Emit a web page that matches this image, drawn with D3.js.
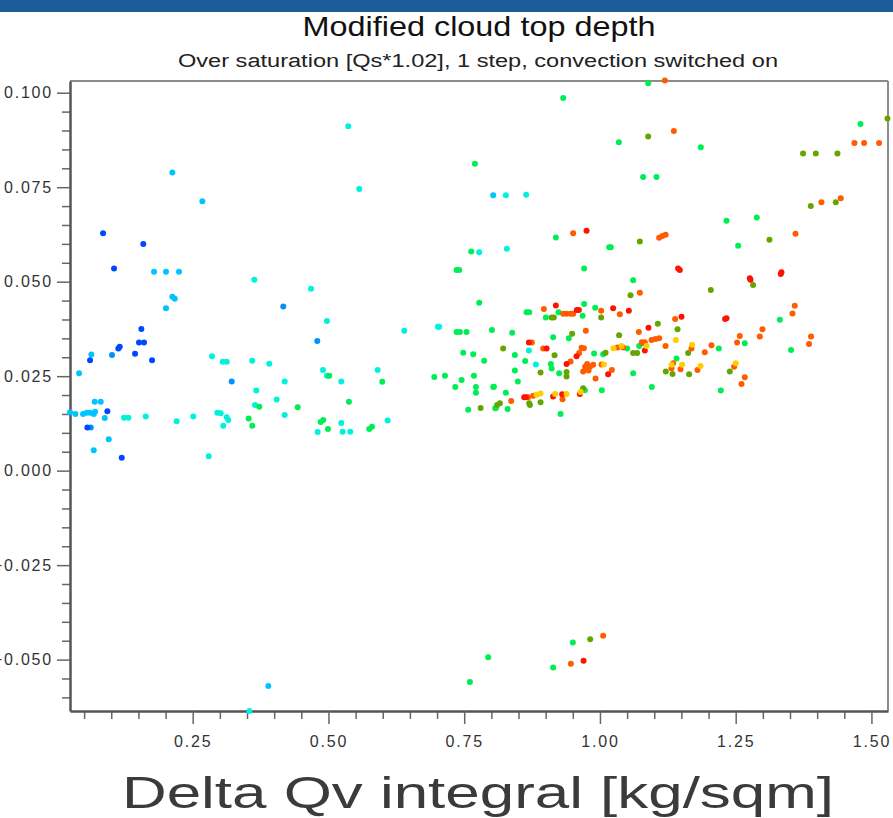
<!DOCTYPE html>
<html>
<head>
<meta charset="utf-8">
<script src="https://cdn.jsdelivr.net/npm/d3@7"></script>
<style>
  html, body { margin: 0; padding: 0; background: #fff; }
  svg { display: block; }
  text { font-family: "Liberation Sans", Arial, Helvetica, sans-serif; }
</style>
</head>
<body>
<svg id="chart" width="893" height="818"></svg>
<script>
// Axis ranges and ticks
const xDomain = [0.024, 1.5305];
const yDomain = [-0.0636, 0.1031];
const xMajorTicks = [0.25, 0.50, 0.75, 1.00, 1.25, 1.50];
const yMajorTicks = [-0.050, -0.025, 0.000, 0.025, 0.050, 0.075, 0.100];

const titleText = "Modified cloud top depth";
const subtitleText = "Over saturation [Qs*1.02], 1 step, convection switched on";
const xLabelText = "Delta Qv integral [kg/sqm]";

// Points grouped by colour class: [Delta Qv integral, cloud top depth change]
const deepBluePts = [[0.0849,0.0628],[0.1590,0.0600],[0.1051,0.0535],[0.1554,0.0375],[0.1511,0.0339],[0.1603,0.0339],[0.1156,0.0328],[0.1130,0.0323],[0.1438,0.0309],[0.1751,0.0292],[0.0609,0.0292],[0.0928,0.0157],[0.0560,0.0114],[0.1193,0.0034]];
const midBluePts = [[0.1014,0.0306],[0.3218,0.0236],[0.4168,0.0434],[0.4794,0.0343],[0.0622,0.0114]];
const skyPts = [[0.2125,0.0789],[0.2677,0.0713],[0.1788,0.0526],[0.2008,0.0526],[0.2248,0.0526],[0.2125,0.0460],[0.2169,0.0455],[0.2008,0.0430],[0.0633,0.0307],[0.0407,0.0258],[0.0696,0.0182],[0.0806,0.0182],[0.0241,0.01545],[0.0339,0.0150],[0.0480,0.0150],[0.0549,0.01535],[0.0609,0.01535],[0.0701,0.0156],[0.0677,0.0150],[0.0880,0.0139],[0.0954,0.0083],[0.0677,0.0054],[0.3892,-0.0570],[0.8034,0.0729]];
const cyanPts = [[0.3634,0.0505],[0.2855,0.0303],[0.3052,0.0288],[0.3126,0.0288],[0.3597,0.0291],[0.3910,0.0283],[0.4194,0.0236],[0.3671,0.0212],[0.4046,0.0188],[0.3647,0.0174],[0.1235,0.0140],[0.1315,0.0140],[0.1635,0.0143],[0.2205,0.0131],[0.2511,0.0143],[0.2953,0.01535],[0.3015,0.0152],[0.3126,0.0141],[0.3155,0.0134],[0.3063,0.0119],[0.4194,0.0147],[0.2795,0.0038],[0.3542,-0.0636],[0.5365,0.0911],[0.5567,0.0745],[0.7776,0.0578],[0.4678,0.0481],[0.4972,0.0396],[0.6396,0.0370],[0.4899,0.0266],[0.4972,0.0251],[0.5236,0.0236],[0.5906,0.0266],[0.5236,0.0126],[0.4801,0.0102],[0.5261,0.0103],[0.5401,0.0103],[0.6090,0.0133],[0.8268,0.0729],[0.8642,0.0730],[0.8286,0.0587],[0.7016,0.0381],[0.7040,0.0381],[0.8691,0.0318],[0.8820,0.0281]];
const greenPts = [[0.3726,0.0169],[0.4433,0.0168],[0.3531,0.0138],[0.3597,0.0119],[0.5015,0.0251],[0.5991,0.0235],[0.5377,0.0182],[0.4856,0.0129],[0.4904,0.0134],[0.4991,0.0110],[0.5751,0.0110],[0.5801,0.0116],
  [0.7697,0.0812],[0.7629,0.0580],[0.7360,0.0531],[0.7408,0.0531],[0.7776,0.0444],[0.7360,0.0367],[0.7421,0.0367],[0.7544,0.0367],[0.8010,0.0372],[0.7482,0.0312],[0.7666,0.0308],[0.7868,0.0291],[0.6948,0.0248],[0.7145,0.0251],[0.7452,0.0240],[0.7679,0.0251],[0.7335,0.0221],[0.7716,0.0221],[0.7716,0.0206],[0.8034,0.0221],[0.7574,0.0161],[0.8084,0.0166],
  [1.0888,0.1025],[0.9323,0.0986],[1.0348,0.0869],[1.0795,0.0777],[1.1042,0.0777],[0.9188,0.0617],[1.0170,0.0591],[1.0200,0.0591],[0.9709,0.0535],[1.0611,0.0504],[0.8649,0.0419],[0.8697,0.0419],[0.9237,0.0419],[0.9004,0.0405],[0.9709,0.0441],[0.9680,0.0410],[0.9912,0.0431],[0.8384,0.0365],[0.9138,0.0353],[0.9427,0.0350],[0.8433,0.0306],[0.8623,0.0290],[0.9096,0.0282],[0.9110,0.0270],[0.9893,0.0310],[1.0059,0.0308],[1.0501,0.0323],[1.0722,0.0330],[0.9249,0.0258],[0.8433,0.0265],[0.8488,0.0236],[0.8047,0.0222],[1.0611,0.0258],[1.0955,0.0221],[1.0035,0.0213],[0.9722,0.0213],[0.8268,0.0206],[0.8071,0.0165],[0.8299,0.0163],[0.9275,0.0150],
  [1.1858,0.0856],[1.4798,0.0917],[1.2331,0.0661],[1.2888,0.0670],[1.2545,0.0595],[1.1410,0.0297],[1.2189,0.0323],[1.2667,0.0337],[1.3312,0.0399],[1.3520,0.0319],[1.2226,0.0212],
  [0.7605,-0.0559],[0.7942,-0.0494],[0.9138,-0.0521],[0.9501,-0.0455]];
const olivePts = [[0.7802,0.0166],[1.0888,0.0884],[1.0735,0.0606],[1.0563,0.0464],[0.9110,0.0405],[0.9151,0.0405],[1.0022,0.0405],[0.9488,0.0362],[1.0353,0.0358],[1.1066,0.0389],[1.1429,0.0374],[0.8218,0.0323],[0.9164,0.0305],[1.0103,0.0312],[1.0611,0.0311],[1.0685,0.0311],[1.0795,0.0337],[0.9385,0.0261],[0.9385,0.0249],[0.8906,0.0260],[0.9690,0.0218],[0.8697,0.0178],[0.8710,0.0174],[0.8906,0.0181],[0.8157,0.0178],[0.8108,0.0174],
  [1.5295,0.0932],[1.3741,0.0839],[1.3975,0.0839],[1.4374,0.0839],[1.3883,0.0700],[1.4343,0.0710],[1.3122,0.0611],[1.2820,0.0491],[1.2042,0.0478],[1.1624,0.0311],[1.1213,0.0262],[1.1337,0.0256],[1.1642,0.0255],[1.2391,0.0262],[0.9820,-0.0446]];
const orangePts = [[1.1195,0.1032],[1.1361,0.0899],[0.9507,0.0628],[1.1090,0.0616],[1.1150,0.0621],[1.1210,0.0624],[1.0735,0.0471],[0.8967,0.0428],[0.9323,0.0415],[0.9385,0.0415],[0.9459,0.0415],[0.9507,0.0415],[1.0022,0.0423],[1.0366,0.0414],[0.9740,0.0370],[1.0716,0.0367],[1.1384,0.0401],[0.8746,0.0339],[0.8955,0.0323],[0.9459,0.0289],[0.9618,0.0311],[0.9661,0.0325],[0.9704,0.0324],[1.0324,0.0326],[1.0427,0.0326],[1.0771,0.0340],[1.0826,0.0340],[1.0950,0.0346],[1.1023,0.0348],[1.1090,0.0350],[1.1208,0.0330],[0.9727,0.0275],[0.9764,0.0282],[0.9814,0.0275],[0.9875,0.0280],[0.9790,0.0265],[0.9691,0.0262],[0.9919,0.0244],[1.0029,0.0281],[1.0219,0.0266],[0.9311,0.0189],[0.8771,0.0198],[0.8678,0.0194],[0.8365,0.0184],
  [1.4687,0.0867],[1.4865,0.0867],[1.5140,0.0867],[1.4079,0.0710],[1.4435,0.0721],[1.3601,0.0627],[1.1686,0.0323],[1.1931,0.0313],[1.2054,0.0332],[1.2575,0.0356],[1.2526,0.0339],[1.2944,0.0355],[1.2993,0.0374],[1.3546,0.0416],[1.3588,0.0436],[1.3888,0.0355],[1.3851,0.0335],[1.1348,0.0284],[1.1318,0.0271],[1.1484,0.0268],[1.1797,0.0266],[1.2471,0.0275],[1.2667,0.0247],[1.2607,0.0229],
  [0.9464,-0.0511],[1.0059,-0.0437]];
const redPts = [[0.9753,0.0635],[1.1440,0.0535],[1.1471,0.0531],[0.9188,0.0437],[0.9575,0.0425],[0.9612,0.0425],[1.0243,0.0430],[1.0532,0.0423],[1.0894,0.0378],[0.8691,0.0339],[0.9017,0.0323],[0.9385,0.0282],[0.9569,0.0303],[1.0826,0.0318],[1.0151,0.0255],[0.9630,0.0203],[0.9304,0.0202],[0.9138,0.0196],[0.8605,0.0194],[0.8636,0.0194],
  [1.2760,0.0509],[1.2773,0.0505],[1.3343,0.0525],[1.3330,0.0520],[1.1502,0.0407],[1.2305,0.0401],[1.2331,0.0403],
  [0.9698,-0.0503]];
const yellowPts = [[1.0072,0.0281],[1.0250,0.0324],[1.0398,0.0330],[1.0857,0.0330],[1.1397,0.0346],[0.9643,0.0208],[0.9385,0.0203],[0.9175,0.0203],[0.8906,0.0204],[0.8833,0.0201],[1.1697,0.0333],[1.1318,0.0280],[1.1513,0.0280],[1.1852,0.0277],[1.2502,0.0284]];

const groups = [
  { pts: skyPts,      color: "#00c4ff" },
  { pts: cyanPts,     color: "#00f2dc" },
  { pts: midBluePts,  color: "#0092ff" },
  { pts: deepBluePts, color: "#0048ff" },
  { pts: greenPts,    color: "#00ee55" },
  { pts: olivePts,    color: "#64a600" },
  { pts: orangePts,   color: "#ff5c00" },
  { pts: redPts,      color: "#ff1200" },
  { pts: yellowPts,   color: "#ffce00" }
];

const svg = d3.select("#chart");
const W = 893, H = 818;
const plot = { left: 70, right: 888, top: 81, bottom: 711 };

const x = d3.scaleLinear().domain(xDomain).range([plot.left, plot.right]);
const y = d3.scaleLinear().domain(yDomain).range([plot.bottom, plot.top]);

// Blur used for the soft, enlarged axis caption
const defs = svg.append("defs");
defs.append("filter").attr("id", "soft")
  .append("feGaussianBlur").attr("stdDeviation", 0.7);

// Header band
svg.append("rect").attr("x", 0).attr("y", 0).attr("width", W).attr("height", 12)
  .attr("fill", "#1e5b9a");

// Titles
svg.append("text").attr("x", 479).attr("y", 36)
  .attr("text-anchor", "middle").attr("font-size", 28).attr("fill", "#111")
  .attr("textLength", 353).attr("lengthAdjust", "spacingAndGlyphs")
  .text(titleText);
svg.append("text").attr("x", 478).attr("y", 67)
  .attr("text-anchor", "middle").attr("font-size", 18).attr("fill", "#222")
  .attr("textLength", 600).attr("lengthAdjust", "spacingAndGlyphs")
  .text(subtitleText);

// Frame: top and right
svg.append("line").attr("x1", plot.left).attr("x2", plot.right)
  .attr("y1", plot.top).attr("y2", plot.top)
  .attr("stroke", "#8c8c8c").attr("stroke-width", 2);
svg.append("line").attr("x1", plot.right).attr("x2", plot.right)
  .attr("y1", plot.top).attr("y2", plot.bottom)
  .attr("stroke", "#8c8c8c").attr("stroke-width", 2);

// Minor ticks
const yMinor = d3.range(-0.060, 0.1001, 0.005).map(v => +v.toFixed(3))
  .filter(v => !yMajorTicks.some(t => Math.abs(t - v) < 1e-9));
const xMinor = d3.range(0.05, 1.5001, 0.05).map(v => +v.toFixed(2))
  .filter(v => !xMajorTicks.some(t => Math.abs(t - v) < 1e-9));

const yAxisMinor = d3.axisLeft(y).tickValues(yMinor).tickSize(8).tickSizeOuter(0).tickFormat("");
const xAxisMinor = d3.axisBottom(x).tickValues(xMinor).tickSize(8).tickSizeOuter(0).tickFormat("");
svg.append("g").attr("transform", `translate(${plot.left},0)`).call(yAxisMinor)
  .call(g => g.select(".domain").remove())
  .selectAll("line").attr("stroke", "#666").attr("stroke-width", 1.5);
svg.append("g").attr("transform", `translate(0,${plot.bottom})`).call(xAxisMinor)
  .call(g => g.select(".domain").remove())
  .selectAll("line").attr("stroke", "#666").attr("stroke-width", 1.5);

// Major ticks and labels
const yAxis = d3.axisLeft(y).tickValues(yMajorTicks).tickSize(13).tickSizeOuter(0)
  .tickPadding(4).tickFormat(d3.format(".3f"));
const xAxis = d3.axisBottom(x).tickValues(xMajorTicks).tickSize(13).tickSizeOuter(0)
  .tickPadding(8).tickFormat(d3.format(".2f"));

const gy = svg.append("g").attr("transform", `translate(${plot.left},0)`).call(yAxis);
const gx = svg.append("g").attr("transform", `translate(0,${plot.bottom})`).call(xAxis);
[gy, gx].forEach(g => {
  g.select(".domain").attr("stroke", "#555").attr("stroke-width", 2.5);
  g.selectAll(".tick line").attr("stroke", "#666").attr("stroke-width", 1.5);
  g.selectAll(".tick text").attr("font-size", 16).attr("fill", "#333")
    .attr("letter-spacing", "1.8px")
    .style("font-family", '"Liberation Sans", Arial, Helvetica, sans-serif');
});
gx.selectAll(".tick text").attr("dy", "0.95em");

// Data points
const dots = svg.append("g");
groups.forEach(gp => {
  dots.selectAll(null).data(gp.pts).enter().append("circle")
    .attr("cx", d => x(d[0])).attr("cy", d => y(d[1]))
    .attr("r", 3).attr("fill", gp.color);
});

// X axis caption
svg.append("text").attr("x", 478).attr("y", 808)
  .attr("text-anchor", "middle").attr("font-size", 44).attr("fill", "#3a3a3a")
  .attr("textLength", 712).attr("lengthAdjust", "spacingAndGlyphs")
  .attr("filter", "url(#soft)")
  .text(xLabelText);
</script>
</body>
</html>
